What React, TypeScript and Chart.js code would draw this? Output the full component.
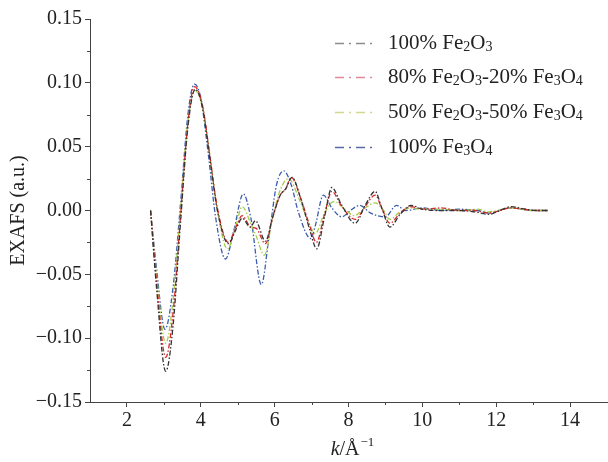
import { useEffect, useRef } from "react";
import { Chart, registerables } from "chart.js";

Chart.register(...registerables);

const FONT = '"Liberation Serif", "Times New Roman", serif';

const seriesLabels = ["100% Fe₂O₃", "80% Fe₂O₃-20% Fe₃O₄", "50% Fe₂O₃-50% Fe₃O₄", "100% Fe₃O₄"];
const lineColors = ["#333333", "#d42a2a", "#a6cc4a", "#3c5cae"];
const legendColors = ["#8c8c8c", "#e08a98", "#d2d88e", "#5868a8"];

const kFe2O3 = [2.64, 2.8, 3.05, 3.25, 3.45, 3.65, 3.85, 4.05, 4.25, 4.45, 4.75, 4.95, 5.12, 5.34, 5.48, 5.75, 5.95, 6.15, 6.3, 6.47, 6.7, 6.95, 7.14, 7.35, 7.55, 7.8, 8.18, 8.45, 8.72, 8.9, 9.12, 9.4, 9.7, 10.0, 10.5, 11.0, 11.4, 11.8, 12.1, 12.4, 12.8, 13.1, 13.4];
const yFe2O3 = [0.0, -0.06, -0.126, -0.09, -0.01, 0.065, 0.095, 0.08, 0.04, 0.0, -0.026, -0.015, -0.006, -0.013, -0.008, -0.024, -0.005, 0.012, 0.017, 0.026, 0.01, -0.015, -0.03, -0.005, 0.018, 0.005, -0.01, 0.004, 0.015, 0.002, -0.013, -0.003, 0.004, 0.001, 0.0, 0.0, -0.001, -0.003, 0.0, 0.003, 0.001, 0.0, 0.0];

const k80 = [2.64, 2.8, 3.05, 3.25, 3.45, 3.65, 3.83, 4.05, 4.25, 4.45, 4.75, 4.95, 5.12, 5.35, 5.5, 5.75, 5.95, 6.15, 6.3, 6.45, 6.7, 6.95, 7.13, 7.35, 7.55, 7.8, 8.18, 8.45, 8.72, 8.9, 9.12, 9.4, 9.7, 10.0, 10.5, 11.0, 11.4, 11.8, 12.4, 13.1, 13.4];
const y80 = [0.0, -0.055, -0.115, -0.08, -0.005, 0.068, 0.097, 0.082, 0.042, 0.002, -0.025, -0.013, -0.004, -0.013, -0.014, -0.026, -0.005, 0.012, 0.017, 0.026, 0.01, -0.012, -0.025, -0.003, 0.015, 0.004, -0.007, 0.003, 0.012, 0.002, -0.01, -0.002, 0.003, 0.001, 0.002, 0.0, 0.0, -0.002, 0.002, 0.0, 0.0];

const k50 = [2.64, 2.8, 3.05, 3.25, 3.45, 3.65, 3.85, 4.05, 4.25, 4.45, 4.72, 4.95, 5.12, 5.35, 5.5, 5.72, 5.95, 6.15, 6.38, 6.65, 6.9, 7.1, 7.35, 7.6, 7.9, 8.15, 8.45, 8.72, 8.95, 9.12, 9.4, 9.7, 10.0, 10.5, 11.0, 11.5, 11.8, 12.4, 13.0, 13.4];
const y50 = [0.0, -0.05, -0.104, -0.07, 0.0, 0.07, 0.094, 0.08, 0.042, 0.0, -0.03, -0.012, 0.003, -0.01, -0.02, -0.035, -0.005, 0.016, 0.025, 0.01, -0.008, -0.018, -0.002, 0.007, 0.001, -0.004, 0.002, 0.006, 0.0, -0.007, -0.001, 0.002, 0.001, 0.001, 0.0, 0.001, -0.001, 0.002, 0.0, 0.0];

const kFe3O4 = [2.64, 2.8, 3.03, 3.25, 3.45, 3.65, 3.83, 4.0, 4.2, 4.4, 4.67, 4.9, 5.15, 5.35, 5.64, 5.85, 6.05, 6.25, 6.45, 6.65, 6.98, 7.1, 7.32, 7.55, 7.82, 8.05, 8.3, 8.6, 9.0, 9.3, 9.55, 10.0, 10.5, 11.0, 11.5, 11.8, 12.4, 13.0, 13.4];
const yFe3O4 = [0.0, -0.045, -0.093, -0.06, 0.005, 0.075, 0.099, 0.088, 0.045, -0.005, -0.038, -0.015, 0.013, -0.005, -0.058, -0.02, 0.02, 0.031, 0.02, -0.002, -0.022, -0.012, 0.012, 0.002, -0.005, 0.0, 0.004, -0.002, -0.005, 0.004, 0.0, 0.002, 0.0, 0.001, 0.0, -0.002, 0.002, 0.0, 0.0];

const kSeries = [kFe2O3, k80, k50, kFe3O4];
const ySeries = [yFe2O3, y80, y50, yFe3O4];

const xTicks = [2, 4, 6, 8, 10, 12, 14];
const xMinorTicks = [3, 5, 7, 9, 11, 13];
const yTicks = [-0.15, -0.1, -0.05, 0, 0.05, 0.1, 0.15];
const yMinorTicks = [-0.125, -0.075, -0.025, 0.025, 0.075, 0.125];

const AXIS_COLOR = "#444444";
const FS = 20;

function drawRichText(ctx: CanvasRenderingContext2D, text: string, x: number, y: number, size: number) {
  let cx = x;
  for (const ch of text) {
    const code = ch.charCodeAt(0);
    if (code >= 0x2080 && code <= 0x2089) {
      const d = String.fromCharCode(48 + code - 0x2080);
      ctx.font = `${Math.round(size * 0.65)}px ${FONT}`;
      ctx.fillText(d, cx, y + size * 0.22);
      cx += ctx.measureText(d).width;
    } else {
      ctx.font = `${size}px ${FONT}`;
      ctx.fillText(ch, cx, y);
      cx += ctx.measureText(ch).width;
    }
  }
}

const overlayPlugin = {
  id: "overlay",
  afterDraw(chart: any) {
    const ctx: CanvasRenderingContext2D = chart.ctx;
    const xs = chart.scales.x;
    const ys = chart.scales.y;
    ctx.save();
    // minor ticks
    ctx.strokeStyle = AXIS_COLOR;
    ctx.lineWidth = 1;
    ctx.beginPath();
    for (const v of yMinorTicks) {
      const py = Math.round(ys.getPixelForValue(v)) + 0.5;
      ctx.moveTo(xs.left, py);
      ctx.lineTo(xs.left - 3, py);
    }
    for (const v of xMinorTicks) {
      const px = Math.round(xs.getPixelForValue(v)) + 0.5;
      ctx.moveTo(px, ys.bottom);
      ctx.lineTo(px, ys.bottom + 3);
    }
    ctx.stroke();

    // y title
    ctx.fillStyle = "#222";
    ctx.font = `${FS}px ${FONT}`;
    ctx.textAlign = "center";
    ctx.textBaseline = "middle";
    ctx.save();
    ctx.translate(19, (ys.top + ys.bottom) / 2);
    ctx.rotate(-Math.PI / 2);
    ctx.fillText("EXAFS (a.u.)", 0, 0);
    ctx.restore();

    // x title: k/Å^-1
    ctx.textAlign = "left";
    ctx.textBaseline = "alphabetic";
    const base = 455;
    ctx.font = `italic ${FS}px ${FONT}`;
    const wk = ctx.measureText("k").width;
    ctx.font = `${FS}px ${FONT}`;
    const wa = ctx.measureText("/Å").width;
    ctx.font = `13px ${FONT}`;
    const ws = ctx.measureText("−1").width;
    let sx = 352 - (wk + wa + ws) / 2;
    ctx.font = `italic ${FS}px ${FONT}`;
    ctx.fillText("k", sx, base);
    sx += wk;
    ctx.font = `${FS}px ${FONT}`;
    ctx.fillText("/Å", sx, base);
    sx += wa + 1;
    ctx.font = `13px ${FONT}`;
    ctx.fillText("−1", sx, base - 9);

    // legend
    const legendY = [43, 77, 112, 147];
    seriesLabels.forEach((label, i) => {
      const y = legendY[i];
      ctx.strokeStyle = legendColors[i];
      ctx.lineWidth = 1.5;
      ctx.setLineDash([9, 5, 2, 5]);
      ctx.beginPath();
      ctx.moveTo(335, y + 0.5);
      ctx.lineTo(377, y + 0.5);
      ctx.stroke();
      ctx.setLineDash([]);
      ctx.fillStyle = "#222";
      ctx.textBaseline = "middle";
      drawRichText(ctx, label, 388, y, 21);
    });
    ctx.restore();
  },
};

export default function App() {
  const canvasRef = useRef<HTMLCanvasElement | null>(null);

  useEffect(() => {
    if (!canvasRef.current) return;
    const datasets = seriesLabels.map((label, i) => ({
      label,
      data: kSeries[i].map((k, j) => ({ x: k, y: ySeries[i][j] })),
      borderColor: lineColors[i],
      borderWidth: 1.3,
      borderDash: [5, 2, 1.5, 2],
      pointRadius: 0,
      fill: false,
      cubicInterpolationMode: "monotone" as const,
    }));
    const chart = new Chart(canvasRef.current, {
      type: "line",
      data: { datasets },
      plugins: [overlayPlugin],
      options: {
        animation: false,
        responsive: false,
        devicePixelRatio: 1,
        layout: { padding: { top: 19, right: 1, left: 0, bottom: 0 } },
        plugins: { legend: { display: false }, tooltip: { enabled: false } },
        scales: {
          x: {
            type: "linear",
            min: 1,
            max: 15,
            afterBuildTicks: (scale: any) => {
              scale.ticks = xTicks.map((v) => ({ value: v }));
            },
            afterFit: (scale: any) => {
              scale.height = 60;
            },
            grid: { drawOnChartArea: false, drawTicks: true, tickLength: 5, tickColor: AXIS_COLOR },
            border: { display: true, color: AXIS_COLOR, width: 1 },
            ticks: {
              color: "#222",
              font: { family: FONT, size: FS },
              padding: 2,
              maxRotation: 0,
              autoSkip: false,
              callback: (v: any) => String(v),
            },
          },
          y: {
            type: "linear",
            min: -0.15,
            max: 0.15,
            afterBuildTicks: (scale: any) => {
              scale.ticks = yTicks.map((v) => ({ value: v }));
            },
            afterFit: (scale: any) => {
              scale.width = 90;
            },
            grid: { drawOnChartArea: false, drawTicks: true, tickLength: 5, tickColor: AXIS_COLOR },
            border: { display: true, color: AXIS_COLOR, width: 1 },
            ticks: {
              color: "#222",
              font: { family: FONT, size: FS },
              padding: 3,
              autoSkip: false,
              callback: (v: any) => {
                const n = Number(v);
                const s = Math.abs(n).toFixed(2);
                return n < -1e-9 ? "−" + s : s;
              },
            },
          },
        },
      },
    });
    return () => chart.destroy();
  }, []);

  return (
    <div style={{ position: "absolute", left: 0, top: 0, width: 608, height: 462, background: "#fff" }}>
      <canvas ref={canvasRef} width={608} height={462} style={{ width: 608, height: 462 }} />
    </div>
  );
}
